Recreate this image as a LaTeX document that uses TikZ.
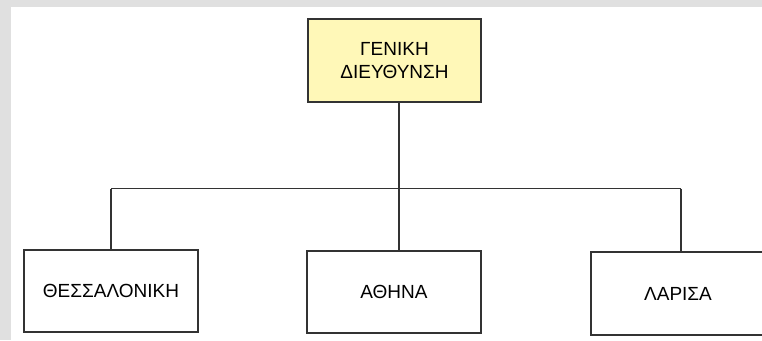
\documentclass[tikz,border=0pt]{standalone}
\usepackage{fontspec}
\setmainfont{Liberation Sans}
\definecolor{pagegray}{HTML}{E0E0E0}
\definecolor{boxyellow}{HTML}{FFF8B8}
\definecolor{edgegray}{HTML}{333333}
\tikzset{
  orgbox/.style={draw=edgegray, line width=1.1pt, fill=white, inner sep=0pt,
    align=center, font=\fontsize{19}{22.5}\selectfont, text=black},
  conn/.style={draw=edgegray, line width=1.1pt}
}
\begin{document}
\begin{tikzpicture}[x=1pt,y=-1pt]
\useasboundingbox (0,0) rectangle (762,340);
\clip (0,0) rectangle (762,340);
\fill[pagegray] (0,0) rectangle (762,340);
\fill[white] (11,7) rectangle (770,345);
\node[orgbox, fill=boxyellow, minimum width=173pt, minimum height=83pt] (top) at (394.5,60.5) {ΓΕΝΙΚΗ\\ΔΙΕΥΘΥΝΣΗ};
\node[orgbox, minimum width=174pt, minimum height=82pt] (thess) at (111,291) {ΘΕΣΣΑΛΟΝΙΚΗ};
\node[orgbox, minimum width=174pt, minimum height=82pt] (ath) at (394,292) {ΑΘΗΝΑ};
\node[orgbox, minimum width=174pt, minimum height=83pt] (lar) at (678,293.5) {ΛΑΡΙΣΑ};
\coordinate (jl) at (111,188.5);
\coordinate (jm) at (399,188.5);
\coordinate (jr) at (681,188.5);
\draw[conn] (jm |- top.south) -- (jm);
\draw[conn] (jl) -- (jr);
\draw[conn] (jl) -- (jl |- thess.north);
\draw[conn] (jm) -- (jm |- ath.north);
\draw[conn] (jr) -- (jr |- lar.north);
\end{tikzpicture}
\end{document}
